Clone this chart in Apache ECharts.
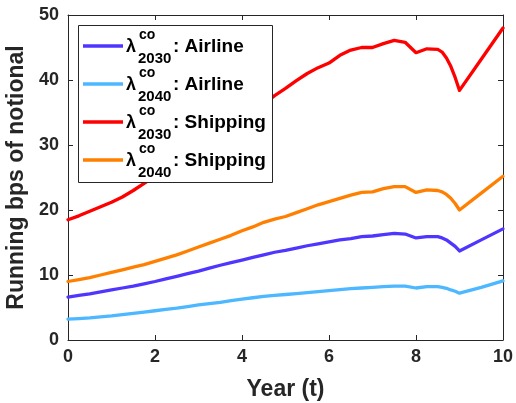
<!DOCTYPE html>
<html><head><meta charset="utf-8">
<script src="https://cdn.jsdelivr.net/npm/echarts@6/dist/echarts.min.js"></script>
<style>html,body{margin:0;padding:0;background:#fff}#c{width:516px;height:403px}</style>
</head><body><div id="c"></div>
<script>
const years = [0,0.25,0.5,0.75,1,1.25,1.5,1.75,2,2.25,2.5,2.75,3,3.25,3.5,3.75,4,4.25,4.5,4.75,5,5.25,5.5,5.75,6,6.25,6.5,6.75,7,7.25,7.5,7.75,8,8.25,8.5,8.6,8.7,8.8,8.9,9,9.5,10];
const airline2030 = [6.6,6.85,7.1,7.4,7.7,8.0,8.3,8.65,9.0,9.4,9.8,10.2,10.6,11.05,11.5,11.9,12.3,12.7,13.1,13.5,13.8,14.15,14.5,14.8,15.1,15.4,15.6,15.9,16.0,16.2,16.4,16.3,15.7,15.9,15.9,15.7,15.4,14.9,14.4,13.7,15.4,17.1];
const airline2040 = [3.2,3.3,3.4,3.55,3.7,3.9,4.1,4.3,4.5,4.7,4.9,5.15,5.4,5.6,5.8,6.05,6.3,6.5,6.7,6.85,7.0,7.15,7.3,7.45,7.6,7.75,7.9,8.0,8.1,8.2,8.3,8.3,8.0,8.2,8.2,8.1,7.95,7.7,7.5,7.2,8.1,9.1];
const shipping2030 = [18.5,19.1,19.8,20.5,21.2,22.0,23.0,24.1,25.2,26.3,27.4,28.5,29.6,30.7,31.8,32.9,34.0,35.1,36.3,37.6,38.7,39.9,41.0,41.9,42.6,43.8,44.6,45.0,45.0,45.6,46.1,45.8,44.2,44.8,44.7,44.3,43.4,42.1,40.4,38.4,43.2,48.0];
const shipping2040 = [9.0,9.3,9.6,10.0,10.4,10.8,11.2,11.6,12.1,12.6,13.1,13.7,14.3,14.9,15.5,16.1,16.8,17.4,18.1,18.6,19.0,19.6,20.2,20.8,21.3,21.8,22.3,22.7,22.8,23.3,23.6,23.6,22.7,23.1,23.0,22.8,22.4,21.8,21.0,20.0,22.6,25.2];
const seriesSub = ['2030','2040','2030','2040'];
const seriesSector = ['Airline','Airline','Shipping','Shipping'];
const seriesColors = ['#4f36ff','#4db8ff','#ff0000','#ff8000'];
const seriesData = [airline2030, airline2040, shipping2030, shipping2040];
const xTicks = {min:0, max:10, interval:2};
const yTicks = {min:0, max:50, interval:10};

const FONT = 'Liberation Sans';
const axisCol = '#262626';
const chart = echarts.init(document.getElementById('c'), null, {renderer:'canvas'});

const series = seriesData.map((d,i)=>({
  type:'line', name: seriesSub[i]+seriesSector[i],
  data: years.map((x,j)=>[x,d[j]]),
  showSymbol:false, smooth:false,
  lineStyle:{color:seriesColors[i], width:3.3, join:'round', cap:'round'},
  itemStyle:{color:seriesColors[i]},
  z: 2
}));

// legend drawn as graphic to allow stacked super/subscript
const lg = [];
const lx = 78, ly = 25, lw = 194, lh = 157;
lg.push({type:'rect', shape:{x:lx+0.5,y:ly+0.5,width:lw,height:lh}, style:{fill:'#fff', stroke:axisCol, lineWidth:1}, z:10});
seriesData.forEach((d,i)=>{
  const cy = 46 + i*38;
  lg.push({type:'line', shape:{x1:83,y1:cy,x2:123,y2:cy}, style:{stroke:seriesColors[i], lineWidth:3.5}, z:11});
  lg.push({type:'text', x:126, y:cy+1, style:{text:'λ', font:'bold 18px "'+FONT+'"', fill:'#000', verticalAlign:'middle'}, z:11});
  lg.push({type:'text', x:139, y:cy-4, style:{text:'co', font:'bold 14px "'+FONT+'"', fill:'#000', verticalAlign:'bottom'}, z:11});
  lg.push({type:'text', x:138, y:cy+5, style:{text:seriesSub[i], font:'bold 15px "'+FONT+'"', fill:'#000', verticalAlign:'top'}, z:11});
  lg.push({type:'text', x:173, y:cy+1, style:{text:': '+seriesSector[i], font:'bold 19px "'+FONT+'"', fill:'#000', verticalAlign:'middle'}, z:11});
});

chart.setOption({
  animation:false,
  backgroundColor:'#fff',
  grid:{left:68, right:13, top:15, bottom:63, containLabel:false, outerBoundsMode:'none'},
  xAxis:[{
    type:'value', min:xTicks.min, max:xTicks.max, interval:xTicks.interval,
    name:'Year (t)', nameLocation:'middle', nameGap:38,
    nameTextStyle:{fontFamily:FONT, fontWeight:'bold', fontSize:23, color:axisCol},
    axisLine:{show:true, onZero:false, lineStyle:{color:axisCol, width:1}},
    axisTick:{show:true, inside:true, length:5, lineStyle:{color:axisCol}},
    axisLabel:{fontFamily:FONT, fontWeight:'bold', fontSize:18, color:axisCol, margin:8},
    splitLine:{show:false}
  },{
    type:'value', position:'top', min:xTicks.min, max:xTicks.max, interval:xTicks.interval,
    axisLine:{show:true, onZero:false, lineStyle:{color:axisCol, width:1}},
    axisTick:{show:true, inside:true, length:5, lineStyle:{color:axisCol}},
    axisLabel:{show:false}, splitLine:{show:false}
  }],
  yAxis:[{
    type:'value', min:yTicks.min, max:yTicks.max, interval:yTicks.interval,
    name:'Running bps of notional', nameLocation:'middle', nameGap:31,
    nameTextStyle:{fontFamily:FONT, fontWeight:'bold', fontSize:23, color:axisCol},
    axisLine:{show:true, onZero:false, lineStyle:{color:axisCol, width:1}},
    axisTick:{show:true, inside:true, length:5, lineStyle:{color:axisCol}},
    axisLabel:{fontFamily:FONT, fontWeight:'bold', fontSize:18, color:axisCol, margin:9},
    splitLine:{show:false}
  },{
    type:'value', position:'right', min:yTicks.min, max:yTicks.max, interval:yTicks.interval,
    axisLine:{show:true, onZero:false, lineStyle:{color:axisCol, width:1}},
    axisTick:{show:true, inside:true, length:5, lineStyle:{color:axisCol}},
    axisLabel:{show:false}, splitLine:{show:false}
  }],
  series: series,
  graphic: lg
});
</script></body></html>
